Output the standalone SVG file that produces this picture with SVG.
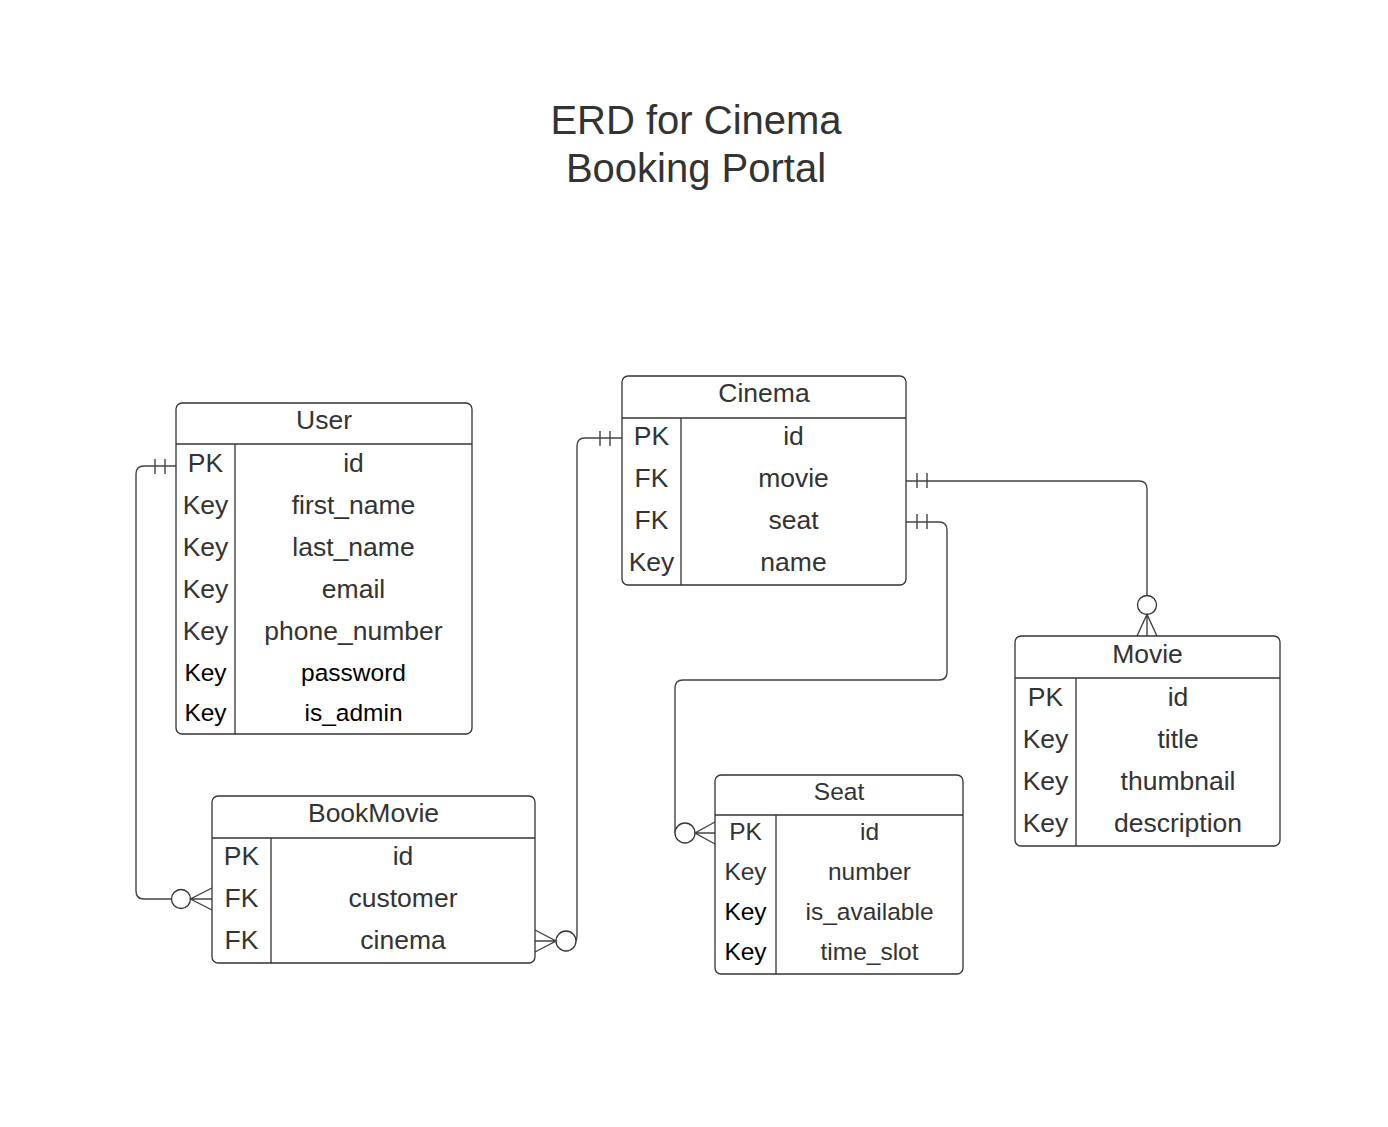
<svg xmlns="http://www.w3.org/2000/svg" width="1388" height="1127" viewBox="0 0 1388 1127">
<style>
.box{fill:#fff;stroke:#333;stroke-width:1.3}
.ln{stroke:#333;stroke-width:1.3;fill:none}
.t{font-family:"Liberation Sans",Arial,sans-serif;font-size:26.5px;fill:#333;text-anchor:middle}
.s{font-size:24.5px}
.k{fill:#000}
.title{font-family:"Liberation Sans",Arial,sans-serif;font-size:40px;fill:#333;text-anchor:middle}
.c{stroke:#444;stroke-width:1.4;fill:none}
.o{fill:#fff;stroke:#333;stroke-width:1.3}
</style>
<rect width="1388" height="1127" fill="#fff"/>
<g id="title">
<text class="title" x="696" y="134">ERD for Cinema</text>
<text class="title" x="696" y="182">Booking Portal</text>
</g>
<g id="connectors">
<path class="c" d="M176,466 H144 Q136,466 136,474 V891 Q136,899 144,899 H171.5"/>
<path class="c" d="M155,459 V474 M165,459 V474"/>
<circle class="o" cx="181" cy="899" r="9.5"/>
<path class="c" d="M212,888 L190.5,899 L212,910 M190.5,899 H212"/>

<path class="c" d="M575.5,941 Q577,941 577,933 V446 Q577,438 585,438 H622"/>
<path class="c" d="M600,431 V446 M610,431 V446"/>
<circle class="o" cx="566" cy="941" r="10"/>
<path class="c" d="M535,930 L556,941 L535,952 M556,941 H535"/>

<path class="c" d="M906,481 H1139 Q1147,481 1147,489 V595.5"/>
<path class="c" d="M917,473 V488 M927,473 V488"/>
<circle class="o" cx="1147" cy="605" r="9.5"/>
<path class="c" d="M1137,636 L1147,614.5 L1157,636 M1147,614.5 V636"/>

<path class="c" d="M906,522 H939 Q947,522 947,530 V672 Q947,680 939,680 H683 Q675,680 675,688 V833"/>
<path class="c" d="M917,514 V529 M927,514 V529"/>
<circle class="o" cx="685" cy="833" r="10"/>
<path class="c" d="M715,822 L695,833 L715,844 M695,833 H715"/>
</g>
<g id="User">
<rect class="box" x="176" y="403" width="296" height="331" rx="6"/>
<path class="ln" d="M176,444 H472 M235,444 V734"/>
<text class="t" x="324" y="429">User</text>
<text class="t" x="205.5" y="471.5">PK</text><text class="t" x="353.5" y="471.5">id</text>
<text class="t" x="205.5" y="513.5">Key</text><text class="t" x="353.5" y="513.5">first_name</text>
<text class="t" x="205.5" y="555.5">Key</text><text class="t" x="353.5" y="555.5">last_name</text>
<text class="t" x="205.5" y="597.5">Key</text><text class="t" x="353.5" y="597.5">email</text>
<text class="t" x="205.5" y="639.5">Key</text><text class="t" x="353.5" y="639.5">phone_number</text>
<text class="t s k" x="205.5" y="680.5">Key</text><text class="t s k" x="353.5" y="680.5">password</text>
<text class="t s k" x="205.5" y="720.5">Key</text><text class="t s k" x="353.5" y="720.5">is_admin</text>
</g>
<g id="BookMovie">
<rect class="box" x="212" y="796" width="323" height="167" rx="6"/>
<path class="ln" d="M212,838 H535 M271,838 V963"/>
<text class="t" x="373.5" y="822">BookMovie</text>
<text class="t" x="241.5" y="864.5">PK</text><text class="t" x="403" y="864.5">id</text>
<text class="t" x="241.5" y="906.5">FK</text><text class="t" x="403" y="906.5">customer</text>
<text class="t" x="241.5" y="948.5">FK</text><text class="t" x="403" y="948.5">cinema</text>
</g>
<g id="Cinema">
<rect class="box" x="622" y="376" width="284" height="209" rx="6"/>
<path class="ln" d="M622,418 H906 M681,418 V585"/>
<text class="t" x="764" y="402">Cinema</text>
<text class="t" x="651.5" y="444.5">PK</text><text class="t" x="793.5" y="444.5">id</text>
<text class="t" x="651.5" y="486.5">FK</text><text class="t" x="793.5" y="486.5">movie</text>
<text class="t" x="651.5" y="528.5">FK</text><text class="t" x="793.5" y="528.5">seat</text>
<text class="t" x="651.5" y="570.5">Key</text><text class="t" x="793.5" y="570.5">name</text>
</g>
<g id="Seat">
<rect class="box" x="715" y="775" width="248" height="199" rx="6"/>
<path class="ln" d="M715,815 H963 M776,815 V974"/>
<text class="t s" x="839" y="800">Seat</text>
<text class="t s" x="745.5" y="840">PK</text><text class="t s" x="869.5" y="840">id</text>
<text class="t s" x="745.5" y="880">Key</text><text class="t s" x="869.5" y="880">number</text>
<text class="t s k" x="745.5" y="920">Key</text><text class="t s" x="869.5" y="920">is_available</text>
<text class="t s k" x="745.5" y="960">Key</text><text class="t s" x="869.5" y="960">time_slot</text>
</g>
<g id="Movie">
<rect class="box" x="1015" y="636" width="265" height="210" rx="6"/>
<path class="ln" d="M1015,678 H1280 M1076,678 V846"/>
<text class="t" x="1147.5" y="663">Movie</text>
<text class="t" x="1045.5" y="705.5">PK</text><text class="t" x="1178" y="705.5">id</text>
<text class="t" x="1045.5" y="747.5">Key</text><text class="t" x="1178" y="747.5">title</text>
<text class="t" x="1045.5" y="789.5">Key</text><text class="t" x="1178" y="789.5">thumbnail</text>
<text class="t" x="1045.5" y="831.5">Key</text><text class="t" x="1178" y="831.5">description</text>
</g>
</svg>
